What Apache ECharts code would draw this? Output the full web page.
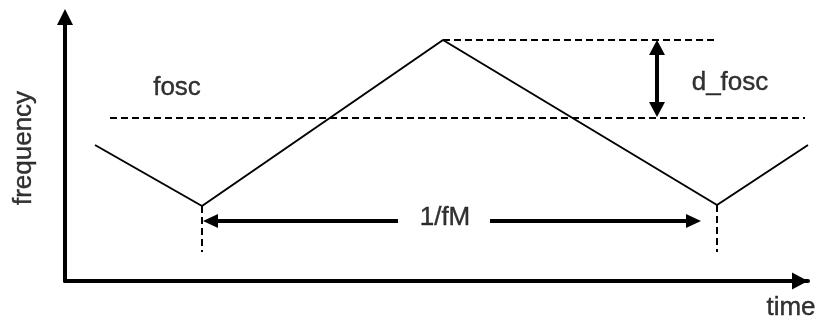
<!DOCTYPE html>
<html>
<head>
<meta charset="utf-8">
<script src="https://cdn.jsdelivr.net/npm/echarts@6/dist/echarts.min.js"></script>
<style>
  html, body { margin: 0; padding: 0; background: #fff; }
  #chart { width: 819px; height: 322px; }
</style>
</head>
<body>
<div id="chart"></div>
<script>
// time / frequency in arbitrary units (origin = axis corner)
const wave = [[30, 136], [137, 75], [378, 241], [652, 76], [743, 136]]
const foscLine = [[45, 163], [740, 163]]
const peakLine = [[378, 241], [653, 241]]
const periodStart = [[137, 75], [137, 29]]
const periodEnd = [[652, 76], [652, 29]]
// arrows: [tail, tip]
const dfoscArrows = [[[592, 203], [592, 241]], [[592, 203], [592, 164]]]
const periodArrows = [[[333, 60], [138, 60]], [[425, 60], [636, 60]]]
const labelNames = ['fosc', 'd_fosc', '1/fM', 'time', 'frequency']
const labelPos = [[112, 193], [665, 198], [380, 63], [726, -27], [-41, 133]]
const labelRotate = [0, 0, 0, 0, 90]

const ARROW_LEN = 15
const ink = '#000'

const chart = echarts.init(document.getElementById('chart'))

function arrowLines(pairs, size) {
  // pull the end in by half the head, the symbol is centered on the point
  return pairs.map(([a, b]) => {
    const dx = b[0] - a[0]
    const dy = b[1] - a[1]
    const len = Math.sqrt(dx * dx + dy * dy)
    const k = (len - ARROW_LEN / 2) / len
    return [
      { coord: a, symbol: 'none' },
      { coord: [a[0] + dx * k, a[1] + dy * k], symbol: 'triangle', symbolSize: size }
    ]
  })
}

function dashed(data) {
  return {
    type: 'line',
    data: data,
    symbol: 'none',
    clip: false,
    silent: true,
    lineStyle: { color: ink, width: 2, type: [7, 4] }
  }
}

chart.setOption({
  animation: false,
  backgroundColor: '#fff',
  grid: { left: 65, right: 11, top: 17, bottom: 41 },
  xAxis: {
    type: 'value',
    min: 0,
    max: 743,
    axisLine: {
      symbol: ['none', 'triangle'],
      symbolSize: [17, 16],
      symbolOffset: [0, -8],
      lineStyle: { color: ink, width: 4 }
    },
    axisTick: { show: false },
    axisLabel: { show: false },
    splitLine: { show: false }
  },
  yAxis: {
    type: 'value',
    min: 0,
    max: 264,
    axisLine: {
      show: true,
      symbol: ['none', 'triangle'],
      symbolSize: [16, 16],
      lineStyle: { color: ink, width: 4 }
    },
    axisTick: { show: false },
    axisLabel: { show: false },
    splitLine: { show: false }
  },
  series: [
    {
      type: 'line',
      data: wave,
      symbol: 'none',
      clip: false,
      silent: true,
      lineStyle: { color: ink, width: 2 }
    },
    dashed(foscLine),
    dashed(peakLine),
    dashed(periodStart),
    dashed(periodEnd),
    {
      type: 'line',
      data: [],
      clip: false,
      markLine: {
        silent: true,
        animation: false,
        label: { show: false },
        emphasis: { disabled: true },
        lineStyle: { color: ink, width: 4, type: 'solid' },
        data: arrowLines(dfoscArrows, [16, 15]).concat(arrowLines(periodArrows, [14, 15]))
      }
    },
    {
      type: 'scatter',
      symbolSize: 0,
      clip: false,
      silent: true,
      data: labelPos.map((p, i) => ({
        value: p,
        label: { formatter: labelNames[i], rotate: labelRotate[i] }
      })),
      label: {
        show: true,
        position: 'inside',
        align: 'center',
        verticalAlign: 'middle',
        color: ink,
        textBorderColor: ink,
        textBorderWidth: 0.4,
        fontFamily: 'Liberation Sans, Arial, sans-serif',
        fontSize: 26
      }
    }
  ]
})
</script>
</body>
</html>
